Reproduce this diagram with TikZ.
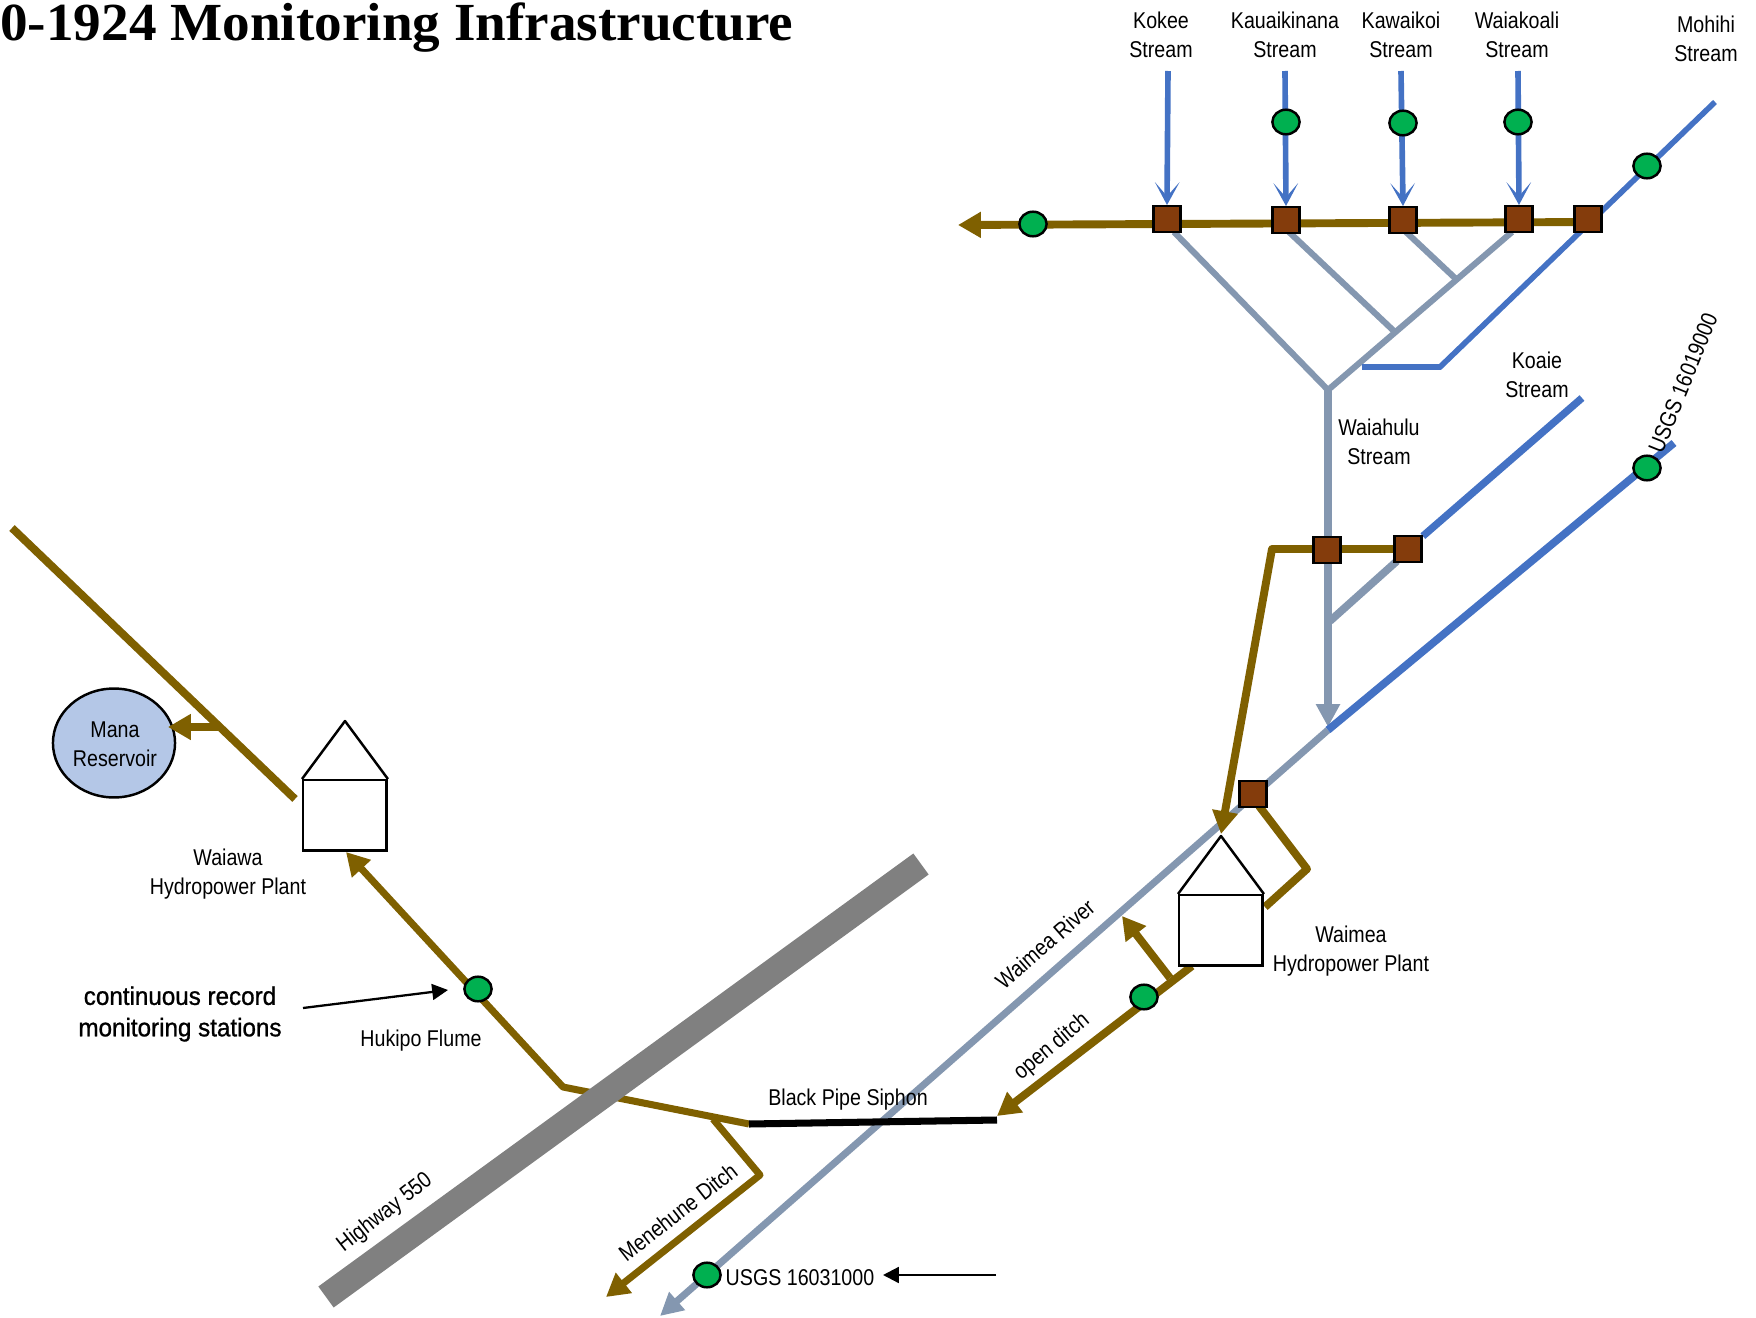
\documentclass[tikz,border=0pt]{standalone}
\usepackage{fontspec}
\setmainfont{Liberation Sans}
\newfontfamily\labelfont[FakeStretch=0.86]{Liberation Sans}
\newfontfamily\notefont[FakeStretch=0.95,FakeBold=1]{Liberation Sans}
\newfontfamily\headfont[FakeStretch=1.03]{Liberation Serif}
\usetikzlibrary{arrows.meta, shapes.geometric}

\definecolor{ditch}{HTML}{7F6000}
\definecolor{gate}{HTML}{843C0C}
\definecolor{gage}{HTML}{00B050}
\definecolor{river}{HTML}{8497B0}
\definecolor{stream}{HTML}{4472C4}
\definecolor{road}{HTML}{808080}
\definecolor{lake}{HTML}{B4C7E7}

\pgfdeclarelayer{top}
\pgfsetlayers{main,top}

\tikzset{
    txt/.style={font=\labelfont\fontsize{13}{16.5}\selectfont, align=center, inner sep=0pt},
    gatebox/.style={draw=black, fill=gate, line width=1.4pt, minimum width=15.5pt, minimum height=14.5pt, inner sep=0pt},
    gageball/.style={draw=black, fill=gage, ellipse, line width=1.4pt, minimum width=15.5pt, minimum height=14pt, inner sep=0pt},
    ditchline/.style={draw=ditch, line width=4.5pt, line join=round},
    ditchhead/.style={-{Triangle[length=13pt,width=14pt]}},
    riverline/.style={draw=river, line width=3.5pt},
    streamline/.style={draw=stream, line width=3.2pt},
    barbhead/.style={-{Stealth[length=13pt,width=14pt,inset=8pt]}},
    thinhead/.style={draw=black, line width=1.3pt, -{Triangle[length=9pt,width=9pt]}},
    plantwall/.style={draw=black, fill=white, line width=1.4pt, minimum width=47.5pt, minimum height=40pt, inner sep=0pt, anchor=north west}
}

\begin{document}
\begin{tikzpicture}[x=0.02cm, y=-0.02cm]

        \useasboundingbox (0,0) rectangle (1756,1318);

        % title
        \node (title) [anchor=base west, inner sep=0pt, font=\headfont\bfseries\fontsize{30.5}{31}\selectfont] at (0,41) {0-1924 Monitoring Infrastructure};

        % gates sit on top of the lines
        \begin{pgfonlayer}{top}
            \node (kokeegate) [gatebox] at (1167,219) {};
            \node (kauaigate) [gatebox] at (1286,220) {};
            \node (kawaigate) [gatebox] at (1403,220) {};
            \node (waiakgate) [gatebox] at (1519,219) {};
            \node (mohihigate) [gatebox] at (1588,219) {};
            \node (waiahgate) [gatebox] at (1327,550) {};
            \node (koaiegate) [gatebox] at (1408,549) {};
            \node (rivergate) [gatebox] at (1253,794) {};
        \end{pgfonlayer}

        % stream ends
        \coordinate (kokeetop) at (1168,71);
        \coordinate (kauaitop) at (1285,71);
        \coordinate (kawaitop) at (1401,71);
        \coordinate (waiaktop) at (1518,71);
        \coordinate (mohihitop) at (1715,102);
        \coordinate (mohihilow) at (1440,367);
        \coordinate (mohihiend) at (1362,367);
        \coordinate (koaietop) at (1582,398);
        \coordinate (usgstop) at (1674,443);

        % river forks
        \coordinate (forkmain) at (1328,390);
        \coordinate (forkkauai) at (1396,333);
        \coordinate (forkkawai) at (1456,279);
        \coordinate (forkkoaie) at (1330,621);
        \coordinate (kokeefoot) at (1174,232);
        \coordinate (kauaifoot) at (1289,232);
        \coordinate (kawaifoot) at (1406,232);
        \coordinate (waiakfoot) at (1512,232);
        \coordinate (koaiefoot) at (1397,561);
        \coordinate (rivermeet) at (1328,727);
        \coordinate (riverjoin) at (1328,730);
        \coordinate (riverend) at (660,1316);

        % grey river
        \draw [riverline] (kokeefoot) -- (forkmain);
        \draw [riverline] (kauaifoot) -- (forkkauai);
        \draw [riverline] (kawaifoot) -- (forkkawai);
        \draw [riverline] (waiakfoot) -- (forkmain);
        \draw [riverline, line width=4pt, -{Triangle[length=13pt,width=13pt]}] (forkmain) -- (rivermeet);
        \draw [riverline, line width=4.4pt] (koaiefoot) -- (forkkoaie);
        \draw [riverline, line width=4pt, -{Triangle[length=13pt,width=13pt]}] (riverjoin) -- (riverend);

        % blue streams
        \draw [streamline, barbhead] (kokeetop) -- (kokeegate.north);
        \draw [streamline, barbhead] (kauaitop) -- (kauaigate.north);
        \draw [streamline, barbhead] (kawaitop) -- (kawaigate.north);
        \draw [streamline, barbhead] (waiaktop) -- (waiakgate.north);
        \draw [streamline] (mohihitop) -- (mohihilow) -- (mohihiend);
        \draw [streamline, line width=4.2pt] (koaietop) -- (koaiegate);
        \draw [streamline, line width=4.4pt] (usgstop) -- (riverjoin);

        % upper ditch
        \coordinate (ditchstart) at (1588,222);
        \coordinate (ditchend) at (958,225);
        \coordinate (bendwaiah) at (1272,549);
        \coordinate (plantbtop) at (1221,834);
        \draw [ditchline, ditchhead] (ditchstart) -- (ditchend);
        \draw [ditchline, ditchhead] (koaiegate) -- (bendwaiah) -- (plantbtop);

        % Waimea plant
        \coordinate (gatefoot) at (1259,806);
        \coordinate (bendgate) at (1307,869);
        \coordinate (wallgate) at (1265,907);
        \coordinate (plantfoot) at (1192,966);
        \coordinate (ditchtip) at (997,1116);
        \coordinate (branchroot) at (1170,978);
        \coordinate (branchtip) at (1122,916);
        \draw [ditchline] (gatefoot) -- (bendgate) -- (wallgate);
        \draw [ditchline, ditchhead] (plantfoot) -- (ditchtip);
        \draw [ditchline, ditchhead] (branchroot) -- (branchtip);
        \node (waimeaplant) [plantwall] at (1178,894) {};
        \coordinate (waimeaapex) at (1221,836);
        \draw [plantwall, fill=none, line join=round] (waimeaplant.north west) -- (waimeaapex) -- (waimeaplant.north east);

        % lower ditch and highway
        \coordinate (flumebend) at (563,1087);
        \coordinate (pipewest) at (749,1124);
        \coordinate (pipeeast) at (997,1120);
        \coordinate (plantatip) at (346,852);
        \coordinate (menehroot) at (713,1119);
        \coordinate (menehbend) at (760,1175);
        \coordinate (menehtip) at (606,1297);
        \draw [ditchline, line width=4pt, ditchhead] (pipewest) -- (flumebend) -- (plantatip);
        \draw [ditchline, line width=4pt, ditchhead] (menehroot) -- (menehbend) -- (menehtip);
        \coordinate (roadsouth) at (326,1297);
        \coordinate (roadnorth) at (921,864);
        \draw [draw=road, line width=14.8pt] (roadsouth) -- (roadnorth);
        \draw [draw=black, line width=4pt] (pipewest) -- (pipeeast);

        % Waiawa plant and reservoir
        \coordinate (canalwest) at (12,528);
        \coordinate (canaleast) at (295,799);
        \coordinate (canalroot) at (218,727);
        \coordinate (manatip) at (168,727);
        \node (manalake) [draw=black, fill=lake, ellipse, line width=1.4pt, minimum width=69.5pt, minimum height=62pt, inner sep=0pt] at (114,743) {};
        \draw [ditchline] (canalwest) -- (canaleast);
        \draw [ditchline, ditchhead] (canalroot) -- (manatip);
        \node (waiawaplant) [plantwall] at (302,779) {};
        \coordinate (waiawaapex) at (345,721);
        \draw [plantwall, fill=none, line join=round] (waiawaplant.north west) -- (waiawaapex) -- (waiawaplant.north east);

        % gages
        \node (gagesouth) [gageball] at (1033,224) {};
        \node (gagekauai) [gageball] at (1286,122) {};
        \node (gagekawai) [gageball] at (1403,123) {};
        \node (gagewaiak) [gageball] at (1518,122) {};
        \node (gagemohihi) [gageball] at (1647,166) {};
        \node (gageusgsup) [gageball] at (1647,468) {};
        \node (gageditch) [gageball] at (1144,997) {};
        \node (gageflume) [gageball] at (478,989) {};
        \node (gageusgslow) [gageball] at (707,1275) {};

        % pointers
        \coordinate (notefrom) at (303,1008);
        \coordinate (notetip) at (448,990);
        \coordinate (usgsfrom) at (996,1275);
        \coordinate (usgstip) at (883,1275);
        \draw [thinhead] (notefrom) -- (notetip);
        \draw [thinhead] (usgsfrom) -- (usgstip);

        % stream names
        \node (kokeetxt) [txt] at (1161,35) {Kokee\\Stream};
        \node (kauaitxt) [txt] at (1285,35) {Kauaikinana\\Stream};
        \node (kawaitxt) [txt] at (1401,35) {Kawaikoi\\Stream};
        \node (waiaktxt) [txt] at (1517,35) {Waiakoali\\Stream};
        \node (mohihitxt) [txt] at (1706,39) {Mohihi\\Stream};
        \node (koaietxt) [txt] at (1537,375) {Koaie\\Stream};
        \node (waiahtxt) [txt] at (1379,442) {Waiahulu\\Stream};

        % plants and reservoir
        \node (waimeatxt) [txt] at (1351,951) {Waimea\\Hydropower Plant};
        \node (waiawatxt) [txt] at (228,874) {Waiawa\\Hydropower Plant};
        \node (manatxt) [txt] at (115,744) {Mana\\Reservoir};

        % other names
        \node (usgsuptxt) [txt, rotate=68] at (1683,383) {USGS 16019000};
        \node (usgslowtxt) [txt] at (800,1278) {USGS 16031000};
        \node (rivertxt) [txt, rotate=41] at (1045,944) {Waimea River};
        \node (opentxt) [txt, rotate=40] at (1052,1047) {open ditch};
        \node (pipetxt) [txt] at (848,1100) {Black Pipe Siphon};
        \node (menehtxt) [txt, rotate=38] at (678,1212) {Menehune Ditch};
        \node (roadtxt) [txt, rotate=38] at (385,1213) {Highway 550};
        \node (flumetxt) [txt] at (421,1041) {Hukipo Flume};
        \node (notetxt) [align=center, inner sep=0pt, font=\notefont\fontsize{14.5}{17.9}\selectfont] at (180,1014) {continuous record\\monitoring stations};

\end{tikzpicture}
\end{document}
